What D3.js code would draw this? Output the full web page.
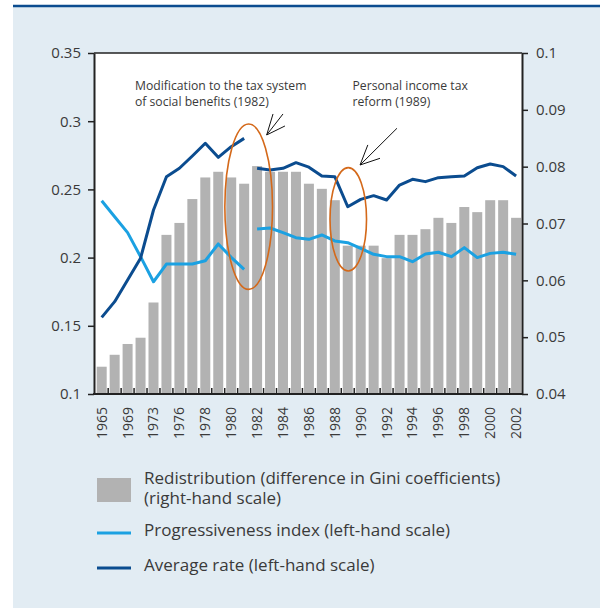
<!DOCTYPE html>
<html><head><meta charset="utf-8">
<script src="https://cdn.jsdelivr.net/npm/d3@7"></script>
<style>body{margin:0;background:#fff}svg{display:block;font-family:"Open Sans",sans-serif}</style>
</head><body><svg id="c" width="600" height="608"></svg>
<script>
// ---- data ----
const years = [1965,1967,1969,1971,1973,1975,1976,1977,1978,1979,1980,1981,1982,1983,1984,1985,1986,1987,1988,1989,1990,1991,1992,1993,1994,1995,1996,1997,1998,1999,2000,2001,2002];
const yearLabels = [1965,1969,1973,1976,1978,1980,1982,1984,1986,1988,1990,1992,1994,1996,1998,2000,2002];
const redistribution = [0.0448,0.0469,0.0488,0.0499,0.0561,0.0680,0.0701,0.0743,0.0781,0.0791,0.0781,0.0770,0.0801,0.0791,0.0791,0.0791,0.0770,0.0761,0.0741,0.0661,0.0661,0.0661,0.0639,0.0680,0.0680,0.0690,0.0710,0.0701,0.0729,0.0720,0.0741,0.0741,0.0710];
const averageRate = [0.1562,0.1677,0.1836,0.1995,0.2349,0.2593,0.2655,0.2745,0.2838,0.2735,0.2813,0.2874,0.2655,0.2642,0.2655,0.2696,0.2663,0.2598,0.2593,0.2373,0.2427,0.2454,0.2422,0.2532,0.2574,0.2557,0.2586,0.2593,0.2598,0.2659,0.2686,0.2667,0.2598];
const progressiveness = [0.2417,0.2300,0.2183,0.2007,0.1823,0.1953,0.1953,0.1953,0.1977,0.2100,0.2002,0.1914,0.2210,0.2217,0.2183,0.2146,0.2134,0.2166,0.2122,0.2109,0.2068,0.2024,0.2007,0.2007,0.1970,0.2026,0.2039,0.2007,0.2073,0.2000,0.2031,0.2039,0.2024];
const breakYear = 1982; // series restart (break in the lines)
const leftTicks = [0.1,0.15,0.2,0.25,0.3,0.35];
const rightTicks = [0.04,0.05,0.06,0.07,0.08,0.09,0.1];
const legendLabels = ["Redistribution (difference in Gini coefficients)","(right-hand scale)","Progressiveness index (left-hand scale)","Average rate (left-hand scale)"];
const notes = [
  {lines:["Modification to the tax system","of social benefits (1982)"], i:2.57, v:0.3229,
   ell:{i:11.35, v:0.2373, ri:1.84, rv:0.0606},
   arrow:{tail:[14.0,0.3053], tip:[12.74,0.2899], b1:[13.23,0.3053], b2:[14.15,0.2965]}},
  {lines:["Personal income tax","reform (1989)"], i:19.37, v:0.3229,
   ell:{i:19.04, v:0.2281, ri:1.41, rv:0.0379},
   arrow:{tail:[22.8,0.2948], tip:[19.95,0.2679], b1:[20.55,0.2826], b2:[21.49,0.2728]}}
];

// ---- style ----
const C = {bg:"#e2ecf3", navy:"#0b4c8f", light:"#1ba1e2", bar:"#b2b2b2", text:"#3a3a3a", orange:"#d4691a"};
const L = 94, R = 522, T = 53, B = 394;

const svg = d3.select("#c");
svg.append("rect").attr("x",13).attr("y",6).attr("width",587).attr("height",602).attr("fill",C.bg);
svg.append("line").attr("x1",13).attr("x2",600).attr("y1",6).attr("y2",6).attr("stroke",C.navy).attr("stroke-width",2.5);
svg.append("rect").attr("x",L).attr("y",T).attr("width",R-L).attr("height",B-T).attr("fill","#fff");

const x = d3.scaleBand().domain(years).range([96.7,521.1]).paddingInner(0.228).paddingOuter(0);
const step = x.step(), bw = x.bandwidth();
const xc = i => x(years[0]) + bw/2 + i*step; // fractional index -> px
const yL = d3.scaleLinear().domain([0.1,0.35]).range([B,T]);
const yR = d3.scaleLinear().domain([0.04,0.1]).range([B,T]);

// bars
svg.append("g").selectAll("rect").data(years).join("rect")
  .attr("x",d=>x(d)).attr("width",bw)
  .attr("y",(d,i)=>yR(redistribution[i])).attr("height",(d,i)=>B-yR(redistribution[i]))
  .attr("fill",C.bar);

// lines
const line = d3.line().x(d=>x(d.year)+bw/2).y(d=>yL(d.v));
function drawSeries(vals,color){
  const pts = years.map((y,i)=>({year:y,v:vals[i]}));
  const segs = [pts.filter(p=>p.year<breakYear), pts.filter(p=>p.year>=breakYear)];
  segs.forEach(s=>svg.append("path").attr("d",line(s)).attr("fill","none").attr("stroke",color).attr("stroke-width",3).attr("stroke-linejoin","round"));
}
drawSeries(progressiveness,C.light);
drawSeries(averageRate,C.navy);

// annotations
notes.forEach(n=>{
  svg.append("ellipse").attr("cx",xc(n.ell.i)).attr("cy",yL(n.ell.v))
    .attr("rx",n.ell.ri*step).attr("ry",yL(0.1)-yL(0.1+n.ell.rv))
    .attr("fill","none").attr("stroke",C.orange).attr("stroke-width",1.6);
  const a = n.arrow, P = p=>[xc(p[0]),yL(p[1])];
  [[a.tail,a.tip],[a.b1,a.tip],[a.b2,a.tip]].forEach(([p,q])=>{
    const [x1,y1]=P(p),[x2,y2]=P(q);
    svg.append("line").attr("x1",x1).attr("y1",y1).attr("x2",x2).attr("y2",y2).attr("stroke","#111").attr("stroke-width",1);
  });
  const t = svg.append("text").attr("x",xc(n.i)).attr("y",yL(n.v)).attr("font-size",12.2).attr("fill",C.text);
  n.lines.forEach((s,k)=>t.append("tspan").attr("x",xc(n.i)).attr("dy",k?16:0).text(s));
});

// frame top
svg.append("line").attr("x1",L).attr("x2",R).attr("y1",T).attr("y2",T).attr("stroke","#222").attr("stroke-width",1.5);

// axes
const fmt = d=>String(+d.toFixed(2));
const ax = svg.append("g").attr("transform",`translate(${L},0)`)
  .call(d3.axisLeft(yL).tickValues(leftTicks).tickFormat(fmt).tickSize(6).tickSizeOuter(0).tickPadding(7));
const axR = svg.append("g").attr("transform",`translate(${R},0)`)
  .call(d3.axisRight(yR).tickValues(rightTicks).tickFormat(fmt).tickSize(6).tickSizeOuter(0).tickPadding(8));
[ax,axR].forEach(g=>{
  g.select(".domain").attr("stroke","#222").attr("stroke-width",2);
  g.selectAll(".tick line").attr("stroke","#222").attr("stroke-width",1.5);
  g.selectAll(".tick text").attr("font-size",15).attr("fill",C.text).attr("font-family","Open Sans");
});

// bottom axis
svg.append("line").attr("x1",L-1).attr("x2",R+1).attr("y1",B).attr("y2",B).attr("stroke","#222").attr("stroke-width",2);
svg.append("g").selectAll("line").data(years.slice(1)).join("line")
  .attr("x1",d=>x(d)-(step-bw)/2).attr("x2",d=>x(d)-(step-bw)/2)
  .attr("y1",B).attr("y2",B-6).attr("stroke","#222").attr("stroke-width",1.5);
svg.append("g").selectAll("text").data(yearLabels).join("text")
  .attr("transform",d=>`translate(${x(d)+bw/2},407) rotate(-90)`)
  .attr("text-anchor","end").attr("dy","0.35em").attr("font-size",14).attr("fill",C.text).text(d=>d);

// legend
const lg = svg.append("g").attr("font-size",17).attr("fill",C.text);
lg.append("rect").attr("x",97).attr("y",478).attr("width",34).attr("height",24).attr("fill",C.bar);
lg.append("text").attr("x",144).attr("y",484).text(legendLabels[0]);
lg.append("text").attr("x",144).attr("y",504).text(legendLabels[1]);
lg.append("line").attr("x1",97).attr("x2",131).attr("y1",533).attr("y2",533).attr("stroke",C.light).attr("stroke-width",3);
lg.append("text").attr("x",144).attr("y",536).text(legendLabels[2]);
lg.append("line").attr("x1",97).attr("x2",131).attr("y1",568).attr("y2",568).attr("stroke",C.navy).attr("stroke-width",3);
lg.append("text").attr("x",144).attr("y",571).text(legendLabels[3]);
</script></body></html>
